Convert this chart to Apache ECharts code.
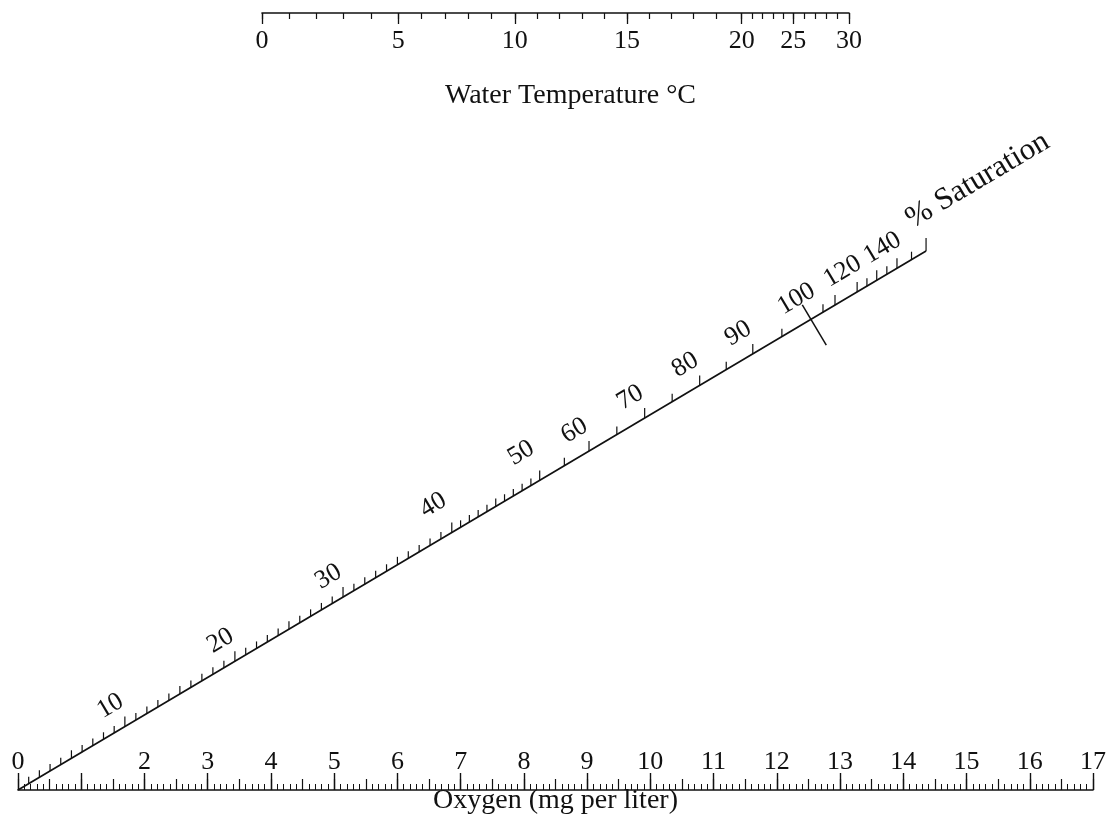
<!DOCTYPE html>
<html><head><meta charset="utf-8">
<script src="https://cdn.jsdelivr.net/npm/echarts@6/dist/echarts.min.js"></script>
<style>html,body{margin:0;padding:0;background:#fff}#c{width:1111px;height:814px}</style>
</head><body><div id="c"></div>
<script>
// ---------- data ----------
// Bottom scale: oxygen (mg per liter)
const oxygenMin = 0;
const oxygenMax = 17;
const oxygenLabels = [0, 2, 3, 4, 5, 6, 7, 8, 9, 10, 11, 12, 13, 14, 15, 16, 17];

// Top scale: water temperature (°C); each degree mark is placed at the
// saturation-oxygen value (mg/L) read off the nomogram's top scale
const tempDegrees = [0,1,2,3,4,5,6,7,8,9,10,11,12,13,14,15,16,17,18,19,20,21,22,23,24,25,26,27,28,29,30];
const tempScaleO2 = [14.62,14.29,13.97,13.64,13.31,12.98,12.70,12.42,12.14,11.86,11.58,11.31,11.04,10.77,10.50,10.23,9.96,9.70,9.43,9.16,8.85,8.72,8.60,8.47,8.35,8.23,8.10,7.96,7.83,7.70,7.56];
const tempLabels = [0, 5, 10, 15, 20, 25, 30];

// Diagonal scale: % saturation
const satTicks = [1,2,3,4,5,6,7,8,9,10,11,12,13,14,15,16,17,18,19,20,21,22,23,24,25,26,27,28,29,30,31,32,33,34,35,36,37,38,39,40,41,42,43,44,45,46,47,48,49,50,55,60,65,70,75,80,85,90,95,100,105,110,120,125,130,135,140,145,150];
const satLabels = [10, 20, 30, 40, 50, 60, 70, 80, 90, 100, 120, 140];
// oxygen reading (mg/L) directly below each calibrated % mark of the diagonal
const satScalePct = [0, 10, 20, 30, 40, 50, 60, 70, 80, 90, 100, 110, 120, 130, 140, 150];
const satScaleO2  = [0, 1.69, 3.43, 5.14, 6.86, 8.25, 9.03, 9.91, 10.78, 11.62, 12.54, 12.92, 13.27, 13.58, 13.90, 14.36];

// ---------- layout / style ----------
const INK = '#111';
const FONT = '"Liberation Serif", "DejaVu Serif", serif';
const DIAG_RISE = 0.0483;   // diagonal height (grid fraction) per mg/L

function satToO2(p) {
  for (let i = 1; i < satScalePct.length; i++) {
    if (p <= satScalePct[i]) {
      const t = (p - satScalePct[i-1]) / (satScalePct[i] - satScalePct[i-1]);
      return satScaleO2[i-1] + t * (satScaleO2[i] - satScaleO2[i-1]);
    }
  }
  return satScaleO2[satScaleO2.length - 1];
}
function satPoint(p) { const x = satToO2(p); return [x, x * DIAG_RISE]; }
function diagFrame(api) {
  const a = api.coord(satPoint(0)), b = api.coord(satPoint(150));
  const len = Math.hypot(b[0]-a[0], b[1]-a[1]);
  const d = [(b[0]-a[0])/len, (b[1]-a[1])/len];
  const n = [d[1], -d[0]];   // unit normal pointing up-left
  return {d, n, ang: Math.atan2(a[1]-b[1], b[0]-a[0])};
}

const tempLabelValues = tempLabels.map(t => tempScaleO2[tempDegrees.indexOf(t)]);
function tempOf(v) {
  for (let i = 0; i < tempScaleO2.length; i++) if (Math.abs(tempScaleO2[i]-v) < 1e-6) return tempDegrees[i];
  return '';
}

const chart = echarts.init(document.getElementById('c'), null, {renderer: 'canvas'});
chart.setOption({
  backgroundColor: '#fff',
  animation: false,
  grid: [
    {left: 18, right: 18, top: 13, bottom: 24, outerBoundsMode: 'none', containLabel: false},
    {left: 262, right: 262, top: 13, height: 1, outerBoundsMode: 'none', containLabel: false}
  ],
  xAxis: [
    {
      type: 'value', gridIndex: 0, position: 'bottom', min: oxygenMin, max: oxygenMax, interval: 1,
      splitLine: {show: false},
      axisLine: {show: true, onZero: false, lineStyle: {color: INK, width: 1.6}},
      axisTick: {show: true, inside: true, length: 17, lineStyle: {color: INK, width: 1.4}},
      minorTick: {show: true, splitNumber: 10, length: 6, lineStyle: {color: INK, width: 1}},
      axisLabel: {show: true, inside: true, margin: 15, color: INK, fontFamily: FONT, fontSize: 26,
        formatter: v => oxygenLabels.indexOf(v) >= 0 ? String(v) : ''},
      name: 'Oxygen (mg per liter)', nameLocation: 'middle', nameGap: 11, nameMoveOverlap: false,
      nameTextStyle: {color: INK, fontFamily: FONT, fontSize: 28, lineHeight: 28, verticalAlign: 'middle'}
    },
    {
      type: 'value', gridIndex: 0, position: 'bottom', min: oxygenMin, max: oxygenMax, interval: 0.5,
      splitLine: {show: false},
      axisLine: {show: false, onZero: false},
      axisTick: {show: true, inside: true, length: 11, lineStyle: {color: INK, width: 1.2}},
      axisLabel: {show: false}
    },
    {
      type: 'value', gridIndex: 1, position: 'top', min: 7.56, max: 14.62, inverse: true,
      splitLine: {show: false},
      axisLine: {show: true, onZero: false, lineStyle: {color: INK, width: 1.6}},
      axisTick: {show: true, inside: true, length: 6, customValues: tempScaleO2, lineStyle: {color: INK, width: 1.2}},
      axisLabel: {show: false}
    },
    {
      type: 'value', gridIndex: 1, position: 'top', min: 7.56, max: 14.62, inverse: true,
      splitLine: {show: false},
      axisLine: {show: false, onZero: false},
      axisTick: {show: true, inside: true, length: 11, customValues: tempLabelValues, lineStyle: {color: INK, width: 1.3}},
      axisLabel: {show: true, inside: true, margin: 15, customValues: tempLabelValues, color: INK,
        fontFamily: FONT, fontSize: 26, formatter: v => String(tempOf(v))},
      name: 'Water Temperature °C', nameLocation: 'middle', nameGap: -97, nameMoveOverlap: false,
      nameTextStyle: {color: INK, fontFamily: FONT, fontSize: 28, padding: [0, 0, 0, 30]}
    }
  ],
  yAxis: [
    {type: 'value', gridIndex: 0, min: 0, max: 1, show: false},
    {type: 'value', gridIndex: 1, min: 0, max: 1, show: false}
  ],
  series: [
    { // diagonal line
      type: 'line', xAxisIndex: 0, yAxisIndex: 0, symbol: 'none', silent: true,
      data: [satPoint(0), satPoint(150)],
      lineStyle: {color: INK, width: 1.7}
    },
    { // % saturation ticks
      type: 'custom', xAxisIndex: 0, yAxisIndex: 0, clip: false, silent: true,
      data: satTicks.map(p => [p]),
      encode: {x: 0},
      renderItem: (params, api) => {
        const p = api.value(0);
        const pt = api.coord(satPoint(p));
        const f = diagFrame(api);
        if (p === 100) {
          return {type: 'line', shape: {x1: pt[0] + f.n[0]*17, y1: pt[1] + f.n[1]*17,
            x2: pt[0] - f.n[0]*30, y2: pt[1] - f.n[1]*30}, style: {stroke: INK, lineWidth: 1.5}};
        }
        const len = p === 150 ? 13 : (p % 10 === 0 ? 10 : (p % 5 === 0 ? 8 : 7));
        return {type: 'line', shape: {x1: pt[0], y1: pt[1], x2: pt[0], y2: pt[1] - len},
          style: {stroke: INK, lineWidth: 1.2}};
      }
    },
    { // % saturation labels
      type: 'custom', xAxisIndex: 0, yAxisIndex: 0, clip: false, silent: true,
      data: satLabels.map(p => [p]),
      encode: {x: 0},
      renderItem: (params, api) => {
        const p = api.value(0);
        const pt = api.coord(satPoint(p));
        const f = diagFrame(api);
        const gap = (p === 40 || p === 50) ? 20 : 12, back = 2;
        return {type: 'text', x: pt[0] + f.n[0]*gap - f.d[0]*back, y: pt[1] + f.n[1]*gap - f.d[1]*back,
          rotation: f.ang,
          style: {text: String(p), x: 0, y: 0, fill: INK, font: '26px ' + FONT, align: 'center', verticalAlign: 'bottom'}};
      }
    },
    { // scale name on the diagonal
      type: 'custom', xAxisIndex: 0, yAxisIndex: 0, clip: false, silent: true,
      data: [[150]],
      encode: {x: 0},
      renderItem: (params, api) => {
        const pt = api.coord(satPoint(api.value(0)));
        const f = diagFrame(api);
        return {type: 'text', x: pt[0] + f.n[0]*19, y: pt[1] + f.n[1]*19,
          rotation: f.ang,
          style: {text: '% Saturation', x: 0, y: 0, fill: INK, font: '31px ' + FONT, align: 'left', verticalAlign: 'bottom'}};
      }
    }
  ]
});
</script></body></html>
